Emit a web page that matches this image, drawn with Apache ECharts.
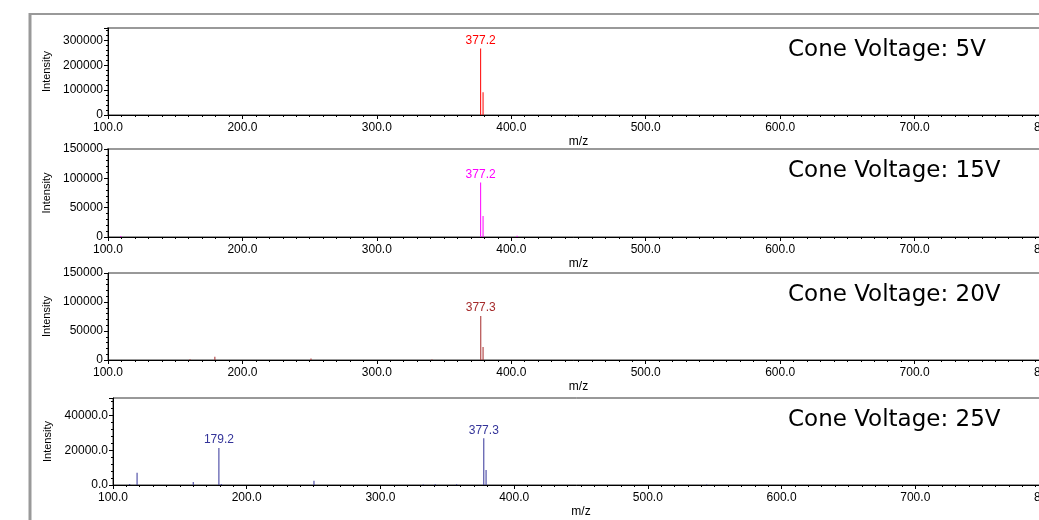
<!DOCTYPE html>
<html>
<head>
<meta charset="utf-8">
<title>Cone voltage mass spectra</title>
<script src="https://cdn.jsdelivr.net/npm/echarts@6/dist/echarts.min.js"></script>
<style>
  html, body { margin: 0; padding: 0; background: #fff; }
  #chart { width: 1039px; height: 520px; }
</style>
</head>
<body>
<div id="chart"></div>
<script>
// peaks: m/z and intensity
const mz5 = [377.2, 379.0];
const int5 = [268000, 92000];

const mz15 = [109.5, 377.2, 379.0, 404.3];
const int15 = [1500, 93000, 36000, 2000];

const mz20 = [161.0, 179.5, 251.0, 341.0, 377.3, 379.0];
const int20 = [1200, 5500, 2500, 1000, 76000, 22500];

const mz25 = [112.5, 118.0, 160.0, 179.2, 181.0, 250.3, 332.0, 341.0, 357.0, 377.3, 379.0, 544.0];
const int25 = [600, 7000, 1700, 21200, 600, 2500, 300, 500, 500, 26900, 8600, 300];

const voltages = ["5V", "15V", "20V", "25V"];
const labelledPeaks = [[377.2], [377.2], [377.3], [179.2, 377.3]];
const yMax = [350000, 150000, 150000, 50000];
const yStep = [100000, 50000, 50000, 20000];
const yDecimals = [0, 0, 0, 1];

const spectra = [[mz5, int5], [mz15, int15], [mz20, int20], [mz25, int25]];
const colors = ["#ff0000", "#ff00ff", "#a52a2a", "#333399"];

// layout of the four stacked panels
const panels = [
  { top: 28, height: 87, left: 108, width: 941, border: "#999", borderWidth: 2 },
  { top: 149, height: 88, left: 108, width: 941, border: "#999", borderWidth: 2 },
  { top: 273, height: 87, left: 108, width: 941, border: "#333", borderWidth: 1 },
  { top: 398, height: 87, left: 113, width: 936, border: "#333", borderWidth: 1 },
];

const chart = echarts.init(document.getElementById("chart"));

const grids = [], xAxes = [], yAxes = [], series = [], titles = [];

panels.forEach((p, i) => {
  grids.push({
    left: p.left, top: p.top, width: p.width, height: p.height,
    show: true, borderColor: p.border, borderWidth: p.borderWidth,
    backgroundColor: "transparent", containLabel: false, outerBoundsMode: "none",
  });

  xAxes.push({
    gridIndex: i, type: "value", min: 100, max: 800, interval: 100,
    axisLine: { show: true, onZero: false, lineStyle: { color: "#000", width: 1 } },
    axisTick: { show: true, length: 4, lineStyle: { color: "#000" } },
    minorTick: { show: true, splitNumber: 10, length: 2, lineStyle: { color: "#000" } },
    splitLine: { show: false },
    axisLabel: { fontSize: 12, color: "#000", margin: 7, formatter: (v) => v.toFixed(1) },
    name: "m/z", nameLocation: "middle", nameGap: 21,
    nameTextStyle: { fontSize: 12, color: "#000" },
  });

  yAxes.push({
    gridIndex: i, type: "value", min: 0, max: yMax[i], interval: yStep[i],
    axisLine: { show: true, lineStyle: { color: "#000", width: 1 } },
    axisTick: { show: true, length: 4, lineStyle: { color: "#000" } },
    minorTick: { show: true, splitNumber: 5, length: 2, lineStyle: { color: "#000" } },
    splitLine: { show: false },
    axisLabel: {
      fontSize: 12, color: "#000", margin: 5,
      showMaxLabel: yMax[i] % yStep[i] === 0,
      formatter: (v) => v.toFixed(yDecimals[i]),
    },
    name: "Intensity", nameLocation: "middle", nameGap: 56,
    nameTextStyle: { fontSize: 11, color: "#000" },
  });

  const [mz, inten] = spectra[i];
  series.push({
    type: "bar", xAxisIndex: i, yAxisIndex: i,
    barWidth: 1,
    itemStyle: { color: colors[i] },
    label: {
      show: false, position: "top", distance: 2,
      fontSize: 12, color: colors[i],
      formatter: (d) => d.value[0].toFixed(1),
    },
    data: mz.map((x, k) => {
      const item = { value: [x, inten[k]] };
      if (labelledPeaks[i].includes(x)) item.label = { show: true };
      return item;
    }),
  });

  titles.push({
    text: "Cone Voltage: " + voltages[i],
    left: 788, top: p.top + 11, padding: 0,
    textStyle: { fontFamily: "DejaVu Sans", fontSize: 23, fontWeight: "normal", color: "#000" },
  });
});

chart.setOption({
  animation: false,
  backgroundColor: "#fff",
  textStyle: { fontFamily: "Liberation Sans, Arial, sans-serif" },
  title: titles,
  grid: grids,
  xAxis: xAxes,
  yAxis: yAxes,
  series: series,
  graphic: [
    // outer frame of the figure
    { type: "line", shape: { x1: 29, y1: 14, x2: 1039, y2: 14 }, style: { stroke: "#999", lineWidth: 2 } },
    { type: "line", shape: { x1: 30, y1: 13, x2: 30, y2: 520 }, style: { stroke: "#999", lineWidth: 3 } },
  ],
});
</script>
</body>
</html>
